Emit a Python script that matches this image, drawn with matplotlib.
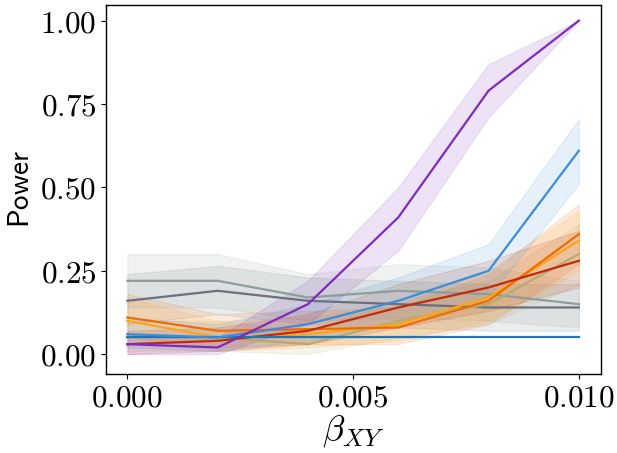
import matplotlib
matplotlib.use("Agg")
import matplotlib.pyplot as plt
import numpy as np

plt.rcParams['mathtext.fontset'] = 'cm'

beta = [0.0, 0.002, 0.004, 0.006, 0.008, 0.010]

names = ["purple", "blue", "darkblue", "red", "orange", "amber", "olive", "graygreen", "darkgray"]
colors = {
    "purple": "#7d2bbf",
    "blue": "#3a8ddb",
    "darkblue": "#1f77b4",
    "red": "#c22a0a",
    "orange": "#ef6c00",
    "amber": "#ffa412",
    "olive": "#b3ab74",
    "graygreen": "#8c9e98",
    "darkgray": "#6c6f7c",
}
mean = {
    "purple":    [0.03, 0.02, 0.15, 0.41, 0.79, 1.00],
    "blue":      [0.06, 0.05, 0.09, 0.16, 0.25, 0.61],
    "darkblue":  [0.05, 0.05, 0.05, 0.05, 0.05, 0.05],
    "red":       [0.03, 0.04, 0.07, 0.14, 0.20, 0.28],
    "orange":    [0.11, 0.07, 0.075, 0.08, 0.16, 0.36],
    "amber":     [0.10, 0.05, 0.06, 0.09, 0.17, 0.34],
    "olive":     [0.05, 0.05, 0.03, 0.10, 0.15, 0.30],
    "graygreen": [0.22, 0.22, 0.17, 0.19, 0.18, 0.15],
    "darkgray":  [0.16, 0.19, 0.16, 0.15, 0.14, 0.14],
}
lower = {
    "purple":    [0.00, 0.00, 0.09, 0.31, 0.71, 1.00],
    "blue":      [0.02, 0.01, 0.04, 0.09, 0.17, 0.51],
    "darkblue":  [0.05, 0.05, 0.05, 0.05, 0.05, 0.05],
    "red":       [0.00, 0.01, 0.03, 0.08, 0.13, 0.20],
    "orange":    [0.05, 0.02, 0.03, 0.03, 0.09, 0.27],
    "amber":     [0.04, 0.01, 0.02, 0.04, 0.10, 0.25],
    "olive":     [0.01, 0.01, 0.00, 0.05, 0.09, 0.21],
    "graygreen": [0.14, 0.14, 0.10, 0.11, 0.10, 0.08],
    "darkgray":  [0.09, 0.12, 0.09, 0.08, 0.07, 0.07],
}
upper = {
    "purple":    [0.06, 0.05, 0.22, 0.50, 0.87, 1.00],
    "blue":      [0.11, 0.09, 0.15, 0.23, 0.33, 0.705],
    "darkblue":  [0.05, 0.05, 0.05, 0.05, 0.05, 0.05],
    "red":       [0.07, 0.08, 0.12, 0.21, 0.28, 0.37],
    "orange":    [0.18, 0.12, 0.13, 0.14, 0.24, 0.45],
    "amber":     [0.17, 0.10, 0.11, 0.15, 0.25, 0.43],
    "olive":     [0.10, 0.10, 0.07, 0.16, 0.22, 0.39],
    "graygreen": [0.30, 0.30, 0.24, 0.27, 0.26, 0.22],
    "darkgray":  [0.24, 0.265, 0.23, 0.22, 0.21, 0.21],
}

xticks = [0.0, 0.005, 0.010]
xtick_labels = ["0.000", "0.005", "0.010"]
yticks = [0.0, 0.25, 0.5, 0.75, 1.0]
ytick_labels = ["0.00", "0.25", "0.50", "0.75", "1.00"]

fig = plt.figure(figsize=(6.17, 4.53), dpi=100)
ax = fig.add_axes([0.172, 0.174, 0.802, 0.815])

draw_order = ["graygreen", "darkgray", "olive", "amber", "orange", "red", "darkblue", "blue", "purple"]
for n in draw_order:
    ax.fill_between(beta, lower[n], upper[n], color=colors[n], alpha=0.13, linewidth=0.8)
for n in draw_order:
    ax.plot(beta, mean[n], color=colors[n], lw=1.6)

ax.set_xlim(-0.00047, 0.01049)
ax.set_ylim(-0.06, 1.047)
ax.set_xticks(xticks)
ax.set_xticklabels(["$" + t + "$" for t in xtick_labels], fontsize=22.5)
ax.set_yticks(yticks)
ax.set_yticklabels(["$" + t + "$" for t in ytick_labels], fontsize=22.5)
ax.set_xlabel(r"$\beta_{XY}$", fontsize=26, labelpad=0)
ax.set_ylabel(r"$\mathsf{Power}$", fontsize=21, labelpad=4)
for s in ax.spines.values():
    s.set_linewidth(1.0)

fig.savefig("out.png", dpi=100)
